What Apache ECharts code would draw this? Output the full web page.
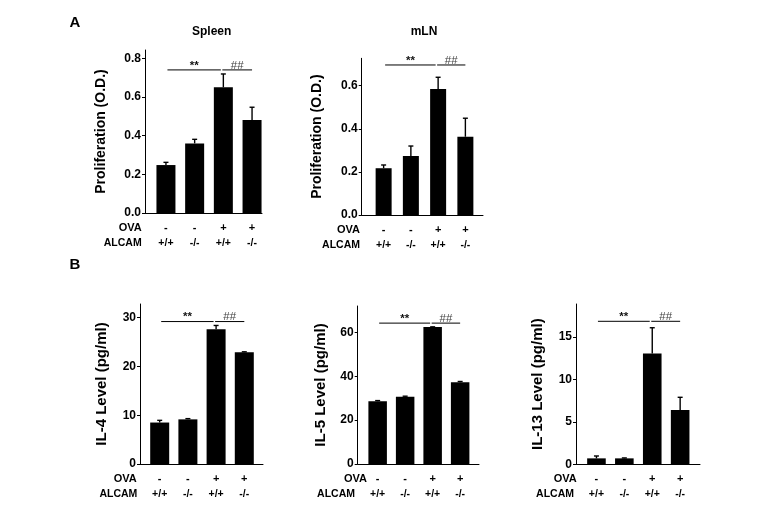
<!DOCTYPE html>
<html>
<head>
<meta charset="utf-8">
<script src="https://cdn.jsdelivr.net/npm/echarts@6/dist/echarts.min.js"></script>
<style>
html,body{margin:0;padding:0;background:#fff;}
#chart{width:779px;height:519px;}
</style>
</head>
<body>
<div id="chart"></div>
<script>
// ---- data ----
const ova = ['-', '-', '+', '+'];
const alcam = ['+/+', '-/-', '+/+', '-/-'];
const categories = ['0', '1', '2', '3'];

const spleenMean = [0.248, 0.36, 0.65, 0.481];
const spleenErr  = [0.014, 0.021, 0.069, 0.066];
const mlnMean    = [0.217, 0.274, 0.585, 0.363];
const mlnErr     = [0.015, 0.046, 0.054, 0.086];
const il4Mean    = [8.5, 9.15, 27.6, 22.9];
const il4Err     = [0.45, 0.15, 0.8, 0.1];
const il5Mean    = [28.6, 30.6, 62.4, 37.3];
const il5Err     = [0.3, 0.3, 0.1, 0.3];
const il13Mean   = [0.7, 0.7, 13.05, 6.4];
const il13Err    = [0.28, 0.05, 3.05, 1.5];

const spleenTicks = [0, 0.2, 0.4, 0.6, 0.8];
const mlnTicks    = [0, 0.2, 0.4, 0.6];
const il4Ticks    = [0, 10, 20, 30];
const il5Ticks    = [0, 20, 40, 60];
const il13Ticks   = [0, 5, 10, 15];

// significance brackets: [fromIndex, toIndex, level]
const sigPairs = [[0, 2], [2, 3]];
const sigLabels = ['**', '##'];
const spleenSig = 0.74, mlnSig = 0.696, il4Sig = 29.2, il5Sig = 64.2, il13Sig = 16.86;

// ---- layout ----
const W = 779, H = 519;
const FONT = '"Liberation Sans", Arial, sans-serif';
const panels = [
  {mean: spleenMean, err: spleenErr, ticks: spleenTicks, max: 0.843, sig: spleenSig, dec: 1,
   name: 'Proliferation (O.D.)', nameSize: 14, nameGap: 37,
   axisX: 145, barL: 151.6, barR: 266.4, frameR: 262, top: 50, bottom: 213, barW: 19,
   ovaR: 141.7, alcR: 141.7},
  {mean: mlnMean, err: mlnErr, ticks: mlnTicks, max: 0.727, sig: mlnSig, dec: 1,
   name: 'Proliferation (O.D.)', nameSize: 14, nameGap: 38,
   axisX: 361.7, barL: 370, barR: 479, frameR: 483, top: 58.3, bottom: 215, barW: 16,
   ovaR: 360, alcR: 360},
  {mean: il4Mean, err: il4Err, ticks: il4Ticks, max: 32.8, sig: il4Sig, dec: 0,
   name: 'IL-4 Level (pg/ml)', nameSize: 15, nameGap: 31,
   axisX: 140, barL: 145.6, barR: 258.4, frameR: 263, top: 304, bottom: 464, barW: 19,
   ovaR: 136.7, alcR: 137.3},
  {mean: il5Mean, err: il5Err, ticks: il5Ticks, max: 72, sig: il5Sig, dec: 0,
   name: 'IL-5 Level (pg/ml)', nameSize: 15, nameGap: 29,
   axisX: 357.7, barL: 363.9, barR: 473.9, frameR: 479, top: 306, bottom: 464, barW: 18.5,
   ovaR: 367, alcR: 355},
  {mean: il13Mean, err: il13Err, ticks: il13Ticks, max: 18.9, sig: il13Sig, dec: 0,
   name: 'IL-13 Level (pg/ml)', nameSize: 15, nameGap: 31,
   axisX: 576, barL: 582.5, barR: 694.1, frameR: 700, top: 304, bottom: 464.3, barW: 18.6,
   ovaR: 576.7, alcR: 574}
];

const grid = [], xAxis = [], yAxis = [], series = [], graphic = [];
const N = panels.length;

panels.forEach((p, i) => {
  grid[i] = {left: p.barL, right: W - p.barR, top: p.top, bottom: H - p.bottom, outerBoundsMode: 'none', containLabel: false};
  grid[N + i] = {left: p.axisX, right: W - p.frameR, top: p.top, bottom: H - p.bottom, outerBoundsMode: 'none', containLabel: false};

  xAxis[i] = {
    type: 'category', gridIndex: i, data: categories,
    axisLine: {show: false}, axisTick: {show: false},
    axisLabel: {
      interval: 0, margin: 7.5, hideOverlap: false,
      formatter: (v, idx) => '{o|' + ova[idx] + '}\n{a|' + alcam[idx] + '}',
      rich: {
        o: {fontFamily: FONT, fontSize: 11, fontWeight: 'bold', color: '#000', lineHeight: 15},
        a: {fontFamily: FONT, fontSize: 10.5, fontWeight: 'bold', color: '#000', lineHeight: 15}
      }
    }
  };
  xAxis[N + i] = {
    type: 'value', gridIndex: N + i, min: 0, max: 1,
    axisLine: {show: true, lineStyle: {color: '#000', width: 1}},
    axisTick: {show: false}, axisLabel: {show: false}, splitLine: {show: false}
  };

  yAxis[i] = {
    type: 'value', gridIndex: i, min: 0, max: p.max, offset: p.barL - p.axisX,
    name: p.name, nameLocation: 'middle', nameGap: p.nameGap, nameMoveOverlap: false,
    nameTextStyle: {fontFamily: FONT, fontSize: p.nameSize, fontWeight: 'bold', color: '#000'},
    axisLine: {show: true, lineStyle: {color: '#000', width: 1}},
    axisTick: {show: true, length: 3, inside: false, customValues: p.ticks, lineStyle: {color: '#000'}},
    axisLabel: {
      margin: 4, customValues: p.ticks, hideOverlap: false,
      fontFamily: FONT, fontSize: 12, fontWeight: 'bold', color: '#000',
      formatter: v => Number(v).toFixed(p.dec)
    },
    splitLine: {show: false}
  };
  yAxis[N + i] = {type: 'value', gridIndex: N + i, show: false, min: 0, max: 1};

  series.push({
    type: 'bar', xAxisIndex: i, yAxisIndex: i, data: p.mean, barWidth: p.barW,
    itemStyle: {color: '#000'}, silent: true, animation: false, z: 2
  });
  series.push({
    type: 'custom', xAxisIndex: i, yAxisIndex: i, animation: false, silent: true, z: 3,
    data: p.mean.map((m, k) => [k, m, p.err[k]]),
    encode: {x: 0, y: 1},
    renderItem: (params, api) => {
      const x = api.value(0), m = api.value(1), e = api.value(2);
      const a = api.coord([x, m]), b = api.coord([x, m + e]);
      return {type: 'group', children: [
        {type: 'line', shape: {x1: a[0], y1: a[1], x2: b[0], y2: b[1]}, style: {stroke: '#000', lineWidth: 1.4}},
        {type: 'line', shape: {x1: b[0] - 2.5, y1: b[1], x2: b[0] + 2.5, y2: b[1]}, style: {stroke: '#000', lineWidth: 1.4}}
      ]};
    }
  });
  series.push({
    type: 'custom', xAxisIndex: i, yAxisIndex: i, animation: false, silent: true, z: 3,
    data: sigPairs.map(s => [s[0], s[1], p.sig]),
    encode: {x: 0, y: 2},
    renderItem: (params, api) => {
      const f = api.value(0), t = api.value(1), y = api.value(2);
      const a = api.coord([f, y]), b = api.coord([t, y]);
      const first = params.dataIndex === 0;
      const x1 = first ? a[0] + 1.5 : a[0] - 1;
      const x2 = first ? b[0] - 2.5 : b[0];
      return {type: 'group', children: [
        {type: 'line', shape: {x1: x1, y1: a[1], x2: x2, y2: a[1]}, style: {stroke: '#000', lineWidth: 1}},
        {type: 'text', style: {
          text: sigLabels[params.dataIndex], x: (x1 + x2) / 2, y: a[1] + 1.5,
          align: 'center', verticalAlign: 'bottom',
          font: (first ? 'bold ' : '') + '11.5px ' + FONT,
          fill: first ? '#111' : '#444'
        }}
      ]};
    }
  });

  graphic.push({type: 'text', x: p.ovaR, y: p.bottom + 15,
    style: {text: 'OVA', align: 'right', verticalAlign: 'middle', font: 'bold 11px ' + FONT, fill: '#000'}});
  graphic.push({type: 'text', x: p.alcR, y: p.bottom + 30,
    style: {text: 'ALCAM', align: 'right', verticalAlign: 'middle', font: 'bold 10.5px ' + FONT, fill: '#000'}});
});

graphic.push({type: 'text', x: 75, y: 23, style: {text: 'A', align: 'center', verticalAlign: 'middle', font: 'bold 15px ' + FONT, fill: '#000'}});
graphic.push({type: 'text', x: 75, y: 265, style: {text: 'B', align: 'center', verticalAlign: 'middle', font: 'bold 15px ' + FONT, fill: '#000'}});
graphic.push({type: 'text', x: 211.7, y: 32, style: {text: 'Spleen', align: 'center', verticalAlign: 'middle', font: 'bold 12px ' + FONT, fill: '#000'}});
graphic.push({type: 'text', x: 424, y: 32, style: {text: 'mLN', align: 'center', verticalAlign: 'middle', font: 'bold 12px ' + FONT, fill: '#000'}});

const chart = echarts.init(document.getElementById('chart'), null, {renderer: 'canvas'});
chart.setOption({
  animation: false,
  backgroundColor: '#fff',
  grid: grid, xAxis: xAxis, yAxis: yAxis, series: series,
  graphic: graphic
});
</script>
</body>
</html>
